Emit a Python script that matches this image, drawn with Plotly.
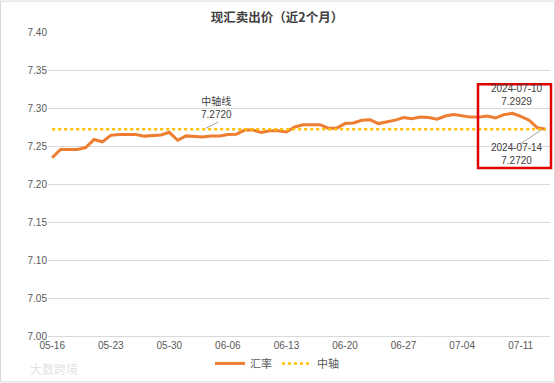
import plotly.graph_objects as go
import pandas as pd

dates = [d.strftime("%m-%d") for d in pd.date_range("2024-05-16", "2024-07-14", freq="D")]
rates = [7.2345, 7.2455, 7.2455, 7.2455, 7.2480, 7.2585, 7.2555, 7.2640, 7.2650, 7.2650,
         7.2650, 7.2630, 7.2640, 7.2645, 7.2680, 7.2576, 7.2633, 7.2630, 7.2620, 7.2630,
         7.2633, 7.2651, 7.2655, 7.2710, 7.2710, 7.2677, 7.2700, 7.2700, 7.2685, 7.2750,
         7.2780, 7.2780, 7.2780, 7.2735, 7.2735, 7.2795, 7.2803, 7.2839, 7.2845, 7.2795,
         7.2816, 7.2840, 7.2874, 7.2860, 7.2880, 7.2874, 7.2852, 7.2895, 7.2913, 7.2900,
         7.2880, 7.2880, 7.2895, 7.2870, 7.2913, 7.2929, 7.2890, 7.2840, 7.2740, 7.2720]
axis_value = 7.2720
mid = [axis_value] * len(dates)
x_ticks = dates[::7]
y_ticks = [7.00, 7.05, 7.10, 7.15, 7.20, 7.25, 7.30, 7.35, 7.40]

W, H = 555, 383
L, R, T, B = 48, 5, 31.5, 46.5
pw, ph = W - L - R, H - T - B

def px(x):
    return (x - L) / pw

def py(y):
    return (H - B - y) / ph

FONT = "Liberation Sans, Noto Sans CJK SC, sans-serif"
CJK = "Noto Sans CJK SC, sans-serif"

fig = go.Figure()
fig.add_trace(go.Scatter(x=dates, y=rates, mode="lines", name="汇率",
                         line=dict(color="#ED7D31", width=3)))
fig.add_trace(go.Scatter(x=dates, y=mid, mode="lines", name="中轴",
                         line=dict(color="#FFC000", width=2.5, dash="dot")))

fig.update_layout(
    width=W, height=H,
    margin=dict(l=L, r=R, t=T, b=B),
    paper_bgcolor="white", plot_bgcolor="white",
    font=dict(family=FONT, size=10, color="#595959"),
    title=dict(text="现汇卖出价（近2个月）", x=(277) / W, xanchor="center",
               y=1 - 18 / H, yanchor="middle",
               font=dict(family=CJK, size=12.5, color="#404040", weight="bold")),
    xaxis=dict(type="category", range=[-0.5, len(dates) - 0.5],
               tickmode="array", tickvals=x_ticks, ticktext=x_ticks,
               showgrid=False, showline=True, linecolor="#d9d9d9", linewidth=1,
               ticks="", tickfont=dict(size=10, color="#595959")),
    yaxis=dict(range=[7.00, 7.40], tickvals=y_ticks,
               ticktext=[f"{v:.2f}" for v in y_ticks],
               showgrid=True, gridcolor="#d9d9d9", gridwidth=1, zeroline=False,
               showline=False, ticks="", tickfont=dict(size=10, color="#595959")),
    legend=dict(orientation="h", x=px(277), xanchor="center", y=py(364), yanchor="middle",
                font=dict(family=CJK, size=11, color="#595959"),
                itemwidth=30, tracegroupgap=0, bgcolor="rgba(0,0,0,0)"),
    showlegend=True,
)

# outer border
fig.add_shape(type="rect", xref="paper", yref="paper",
              x0=px(0.5), x1=px(W - 0.5), y0=py(H - 0.5), y1=py(0.5),
              line=dict(color="#d9d9d9", width=1))

# red highlight box
fig.add_shape(type="rect", xref="paper", yref="paper",
              x0=px(478), x1=px(551), y0=py(168), y1=py(84),
              line=dict(color="#E00000", width=2.5))

# leader lines
fig.add_shape(type="line", xref="paper", yref="paper",
              x0=px(206), y0=py(128), x1=px(218), y1=py(122),
              line=dict(color="#a6a6a6", width=1))
fig.add_shape(type="line", xref="paper", yref="paper",
              x0=px(520), y0=py(144), x1=px(541), y1=py(130),
              line=dict(color="#a6a6a6", width=1))

anns = [
    ("中轴线<br>7.2720", 216, 107),
    ("2024-07-10<br>7.2929", 517, 95),
    ("2024-07-14<br>7.2720", 517, 154),
]
for text, ax, ay in anns:
    fig.add_annotation(text=text, xref="paper", yref="paper", x=px(ax), y=py(ay),
                       xanchor="center", yanchor="middle", showarrow=False,
                       font=dict(family=FONT, size=10, color="#404040"))

# watermark
fig.add_annotation(text="大数跨境", xref="paper", yref="paper", x=px(28), y=py(369),
                   xanchor="left", yanchor="middle", showarrow=False,
                   font=dict(family=CJK, size=12, color="#e3e3e3"))

fig.write_html("out.html", config={"displayModeBar": False},
               post_script="document.body.style.margin='0';document.body.style.overflow='hidden';")
